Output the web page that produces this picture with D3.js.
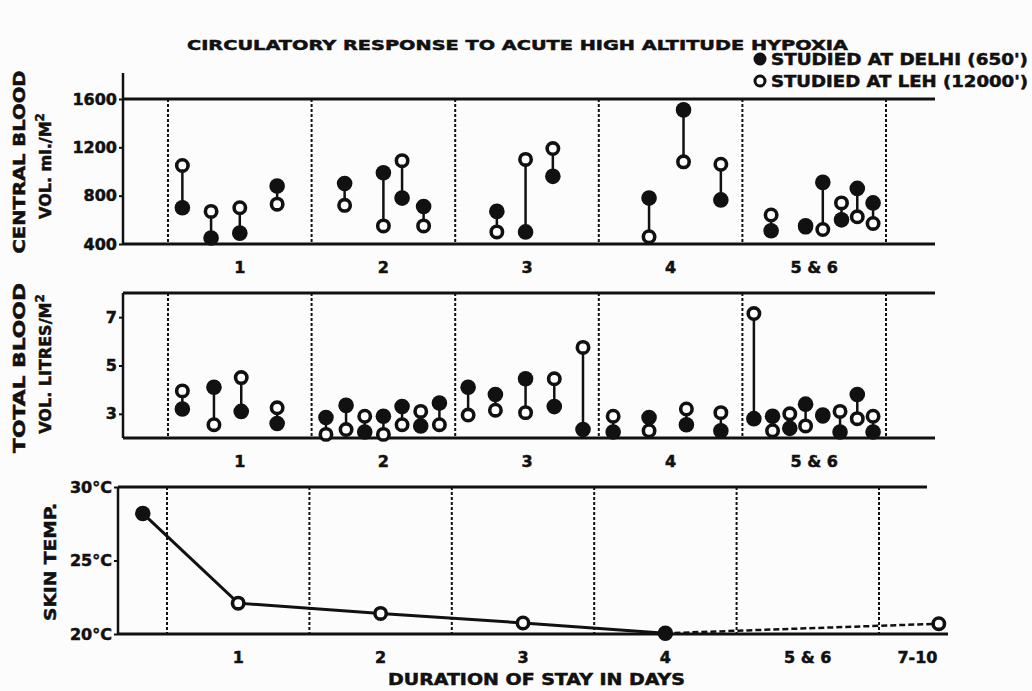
<!DOCTYPE html>
<html><head><meta charset="utf-8">
<script src="https://cdn.jsdelivr.net/npm/d3@7/dist/d3.min.js"></script>
<style>
body{margin:0;background:#fcfcfc;}
svg text{font-family:"DejaVu Sans","Liberation Sans",Arial,sans-serif;font-weight:bold;fill:#111;stroke:#111;stroke-width:0.5px;}
</style></head>
<body><svg id="c" width="1032" height="691"></svg>
<script>
// ---- data ----
const dayLabels = ["1","2","3","4","5 & 6"];
const dayLabelPos = [1,2,3,4,5];
const bottomLabels = ["1","2","3","4","5 & 6","7-10"];
const bottomLabelPos = [1,2,3,4,5,5.77];
const dayBounds = [0.5,1.5,2.5,3.5,4.5,5.5];

// Central blood volume (ml/m2): each subject studied at Delhi and at Leh
const centralDay   = [0.6,0.8,1.0,1.26,1.73,2.0,2.13,2.28,2.79,2.99,3.18,3.85,4.09,4.35,4.70,4.94,5.06,5.19,5.30,5.41];
const centralDelhi = [700,450,490,880,900,990,780,710,670,500,960,780,1510,765,510,550,910,600,860,740];
const centralLeh   = [1050,670,700,730,720,550,1090,550,500,1100,1190,460,1080,1060,640,540,520,740,625,570];
const centralTicks = [400,800,1200,1600];

// Total blood volume (litres/m2)
const totalDay   = [0.6,0.82,1.01,1.26,1.6,1.74,1.87,2.0,2.13,2.26,2.39,2.59,2.78,2.99,3.19,3.39,3.6,3.85,4.11,4.35,4.58,4.71,4.83,4.94,5.06,5.18,5.30,5.41];
const totalDelhi = [3.2,4.1,3.1,2.6,2.85,3.35,2.25,2.9,3.3,2.5,3.45,4.1,3.8,4.45,3.3,2.35,2.25,2.85,2.55,2.3,2.8,2.9,2.4,3.4,2.95,2.25,3.8,2.25];
const totalLeh   = [3.95,2.55,4.5,3.25,2.15,2.35,2.9,2.15,2.55,3.1,2.55,2.95,3.15,3.05,4.45,5.75,2.9,2.3,3.2,3.05,7.15,2.3,3.0,2.5,2.9,3.1,2.8,2.9];
const totalTicks = [3,5,7];

// Skin temperature (deg C)
const skinDay  = [0.33,1,2,3,4,5.92];
const skinTemp = [28.2,22.1,21.4,20.75,20.05,20.7];
const skinSite = ["Delhi","Leh","Leh","Leh","Delhi","Leh"];
const skinTicks = [20,25,30];

// ---- drawing ----
const svg = d3.select("#c");
const x = d3.scaleLinear().domain([0.5,5.5]).range([168,886]);
const xb = d3.scaleLinear().domain([0.5,5.5]).range([167,879]);

const yC = d3.scaleLinear().domain([400,1600]).range([244,99]);
const yT = d3.scaleLinear().domain([2,8]).range([438,293]);
const yS = d3.scaleLinear().domain([20,30]).range([634,487]);

const R = 7.5;

function fitText(sel, len){ return sel.attr("textLength",len).attr("lengthAdjust","spacingAndGlyphs"); }

fitText(svg.append("text").attr("x",187).attr("y",50).attr("font-size",14), 661)
  .text("CIRCULATORY RESPONSE TO ACUTE HIGH ALTITUDE HYPOXIA");

// legend
svg.append("circle").attr("cx",760).attr("cy",59).attr("r",6.5).attr("fill","#111");
svg.append("circle").attr("cx",760).attr("cy",81).attr("r",5).attr("fill","#fff").attr("stroke","#111").attr("stroke-width",3);
fitText(svg.append("text").attr("x",771).attr("y",65).attr("font-size",15),257).text("STUDIED AT DELHI (650')");
fitText(svg.append("text").attr("x",771).attr("y",87).attr("font-size",15),257).text("STUDIED AT LEH (12000')");

function frame(g, left, top, bottom, rightTop, rightBottom, y, ticks, fmt, axTop, xs){
  g.append("line").attr("x1",left).attr("x2",left).attr("y1",axTop).attr("y2",bottom).attr("stroke","#111").attr("stroke-width",2.5);
  g.append("line").attr("x1",left).attr("x2",rightTop).attr("y1",top).attr("y2",top).attr("stroke","#111").attr("stroke-width",2.8);
  g.append("line").attr("x1",left).attr("x2",rightBottom).attr("y1",bottom).attr("y2",bottom).attr("stroke","#111").attr("stroke-width",2.8);
  const ax = d3.axisLeft(y).tickValues(ticks).tickSize(4).tickPadding(2).tickFormat(fmt);
  const a = g.append("g").attr("transform",`translate(${left},0)`).call(ax);
  a.select(".domain").remove();
  a.selectAll("line").attr("stroke","#111").attr("stroke-width",2);
  a.selectAll("text").attr("font-size",16).attr("font-family",null).attr("fill","#111");
  g.selectAll(null).data(dayBounds).enter().append("line")
    .attr("x1",d=>xs(d)).attr("x2",d=>xs(d)).attr("y1",top).attr("y2",bottom)
    .attr("stroke","#111").attr("stroke-width",2).attr("stroke-dasharray","3,2");
}

function pairs(g, days, delhi, leh, y){
  days.forEach((d,i)=>{
    g.append("line").attr("x1",x(d)).attr("x2",x(d)).attr("y1",y(delhi[i])).attr("y2",y(leh[i])).attr("stroke","#111").attr("stroke-width",2.5);
  });
  g.selectAll(null).data(days).enter().append("circle")
    .attr("cx",d=>x(d)).attr("cy",(d,i)=>y(leh[i])).attr("r",R-1.8)
    .attr("fill","#fff").attr("stroke","#111").attr("stroke-width",3.6);
  g.selectAll(null).data(days).enter().append("circle")
    .attr("cx",d=>x(d)).attr("cy",(d,i)=>y(delhi[i])).attr("r",R+0.3)
    .attr("fill","#111");
}

// top panel
const g1 = svg.append("g");
frame(g1,123,yC(1600),yC(400),935,935,yC,centralTicks,d3.format("d"),73,x);
pairs(g1,centralDay,centralDelhi,centralLeh,yC);
g1.selectAll(null).data(dayLabels).enter().append("text")
  .attr("x",(d,i)=>x(dayLabelPos[i])).attr("y",273).attr("text-anchor","middle").attr("font-size",16).text(d=>d);

// middle panel
const g2 = svg.append("g");
frame(g2,123,yT(8),yT(2),935,935,yT,totalTicks,d3.format("d"),yT(8),x);
pairs(g2,totalDay,totalDelhi,totalLeh,yT);
g2.selectAll(null).data(dayLabels).enter().append("text")
  .attr("x",(d,i)=>x(dayLabelPos[i])).attr("y",467).attr("text-anchor","middle").attr("font-size",16).text(d=>d);

// bottom panel
const g3 = svg.append("g");
frame(g3,118,yS(30),yS(20),927,948,yS,skinTicks,d=>d+"°C",yS(30),xb);
const solid = skinDay.slice(0,5).map((d,i)=>[xb(d),yS(skinTemp[i])]);
const dashed = skinDay.slice(4).map((d,i)=>[xb(d),yS(skinTemp[i+4])]);
g3.append("path").attr("d",d3.line()(solid)).attr("fill","none").attr("stroke","#111").attr("stroke-width",3);
g3.append("path").attr("d",d3.line()(dashed)).attr("fill","none").attr("stroke","#111").attr("stroke-width",2.5).attr("stroke-dasharray","6,3");
g3.selectAll(null).data(skinDay).enter().append("circle")
  .attr("cx",d=>xb(d)).attr("cy",(d,i)=>yS(skinTemp[i]))
  .attr("r",(d,i)=>skinSite[i]==="Delhi"?R+0.3:R-1.8)
  .attr("fill",(d,i)=>skinSite[i]==="Delhi"?"#111":"#fff")
  .attr("stroke","#111").attr("stroke-width",(d,i)=>skinSite[i]==="Delhi"?0:3.6);
g3.selectAll(null).data(bottomLabels).enter().append("text")
  .attr("x",(d,i)=>xb(bottomLabelPos[i])).attr("y",663).attr("text-anchor","middle").attr("font-size",16).text(d=>d);
fitText(svg.append("text").attr("x",388).attr("y",685).attr("font-size",15),297).text("DURATION OF STAY IN DAYS");

// y titles
function vtitle(cx, cy, len, txt){
  const t = svg.append("text").attr("transform",`translate(${cx},${cy}) rotate(-90)`).attr("text-anchor","middle").attr("font-size",16).attr("dy","0.36em");
  fitText(t,len).text(txt);
  return t;
}
vtitle(19,162,183,"CENTRAL BLOOD");
const v1 = svg.append("text").attr("transform","translate(45,166) rotate(-90)").attr("text-anchor","middle").attr("font-size",16).attr("dy","0.36em");
v1.append("tspan").text("VOL. ml./M");
v1.append("tspan").attr("dy","-0.55em").attr("font-size",12).text("2");
vtitle(19,368,170,"TOTAL BLOOD");
const v2 = svg.append("text").attr("transform","translate(45,364) rotate(-90)").attr("text-anchor","middle").attr("font-size",16).attr("dy","0.36em");
v2.append("tspan").text("VOL. LITRES/M");
v2.append("tspan").attr("dy","-0.55em").attr("font-size",12).text("2");
vtitle(50,562,118,"SKIN TEMP.");
</script></body></html>
